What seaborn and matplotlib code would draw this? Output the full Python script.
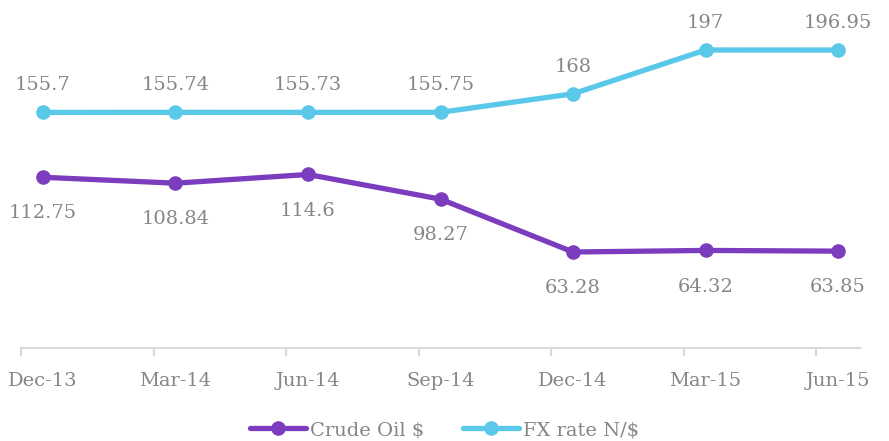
import matplotlib
matplotlib.use("Agg")
import matplotlib.pyplot as plt
import seaborn as sns
import pandas as pd
import numpy as np

categories = ["Dec-13", "Mar-14", "Jun-14", "Sep-14", "Dec-14", "Mar-15", "Jun-15"]
crude_oil = [112.75, 108.84, 114.6, 98.27, 63.28, 64.32, 63.85]
fx_rate = [155.7, 155.74, 155.73, 155.75, 168, 197, 196.95]
crude_labels = ["112.75", "108.84", "114.6", "98.27", "63.28", "64.32", "63.85"]
fx_labels = ["155.7", "155.74", "155.73", "155.75", "168", "197", "196.95"]
series_names = ["Crude Oil $", "FX rate N/$"]
colors = ["#7B3CBE", "#5AC8E8"]

sns.set_theme(style="white")
plt.rcParams["font.family"] = ["DejaVu Serif"]

df = pd.DataFrame({
    "period": categories * 2,
    "value": crude_oil + fx_rate,
    "series": [series_names[0]] * len(categories) + [series_names[1]] * len(categories),
})
df["pos"] = list(range(len(categories))) * 2

fig = plt.figure(figsize=(8.89, 4.41), dpi=100)
ax = fig.add_axes([21 / 889, (441 - 347.6) / 441, (860 - 21) / 889, (347.6 - 7.7) / 441])

sns.lineplot(data=df, x="pos", y="value", hue="series", palette=colors,
             marker="o", markersize=10.5, linewidth=3.8, markeredgewidth=0,
             ax=ax, legend=True)

text_color = "#868686"
fs = 14
for i, (v, lab) in enumerate(zip(fx_rate, fx_labels)):
    ax.annotate(lab, (i, v), xytext=(0, 19.5), textcoords="offset points",
                ha="center", va="center", fontsize=fs, color=text_color)
for i, (v, lab) in enumerate(zip(crude_oil, crude_labels)):
    ax.annotate(lab, (i, v), xytext=(0, -26), textcoords="offset points",
                ha="center", va="center", fontsize=fs, color=text_color)

off = 22 / 132.7
ax.set_xlim(-off, len(categories) - 1 + off)
ax.set_ylim(0, 225)
ax.set_yticks([])
ax.set_xticks([i - off for i in range(len(categories))])
ax.set_xticklabels([])
ax.set_xticks(range(len(categories)), minor=True)
ax.set_xticklabels(categories, minor=True)
ax.tick_params(axis="x", which="major", length=6, width=1.5, color="#d9d9d9", direction="out", bottom=True)
ax.tick_params(axis="x", which="minor", length=0, pad=17.5, labelsize=fs, labelcolor=text_color)
ax.set_xlabel("")
ax.set_ylabel("")
for s in ["top", "right", "left"]:
    ax.spines[s].set_visible(False)
ax.spines["bottom"].set_color("#d9d9d9")
ax.spines["bottom"].set_linewidth(1.5)

handles, labels = ax.get_legend_handles_labels()
ax.legend_.remove()
leg = fig.legend(handles, labels, loc="center", bbox_to_anchor=(0.5, 1 - 430 / 441),
                 ncol=2, frameon=False, fontsize=fs, handlelength=2.9,
                 handletextpad=0.2, columnspacing=2.0, labelcolor=text_color)

fig.savefig("out.png", dpi=100)
